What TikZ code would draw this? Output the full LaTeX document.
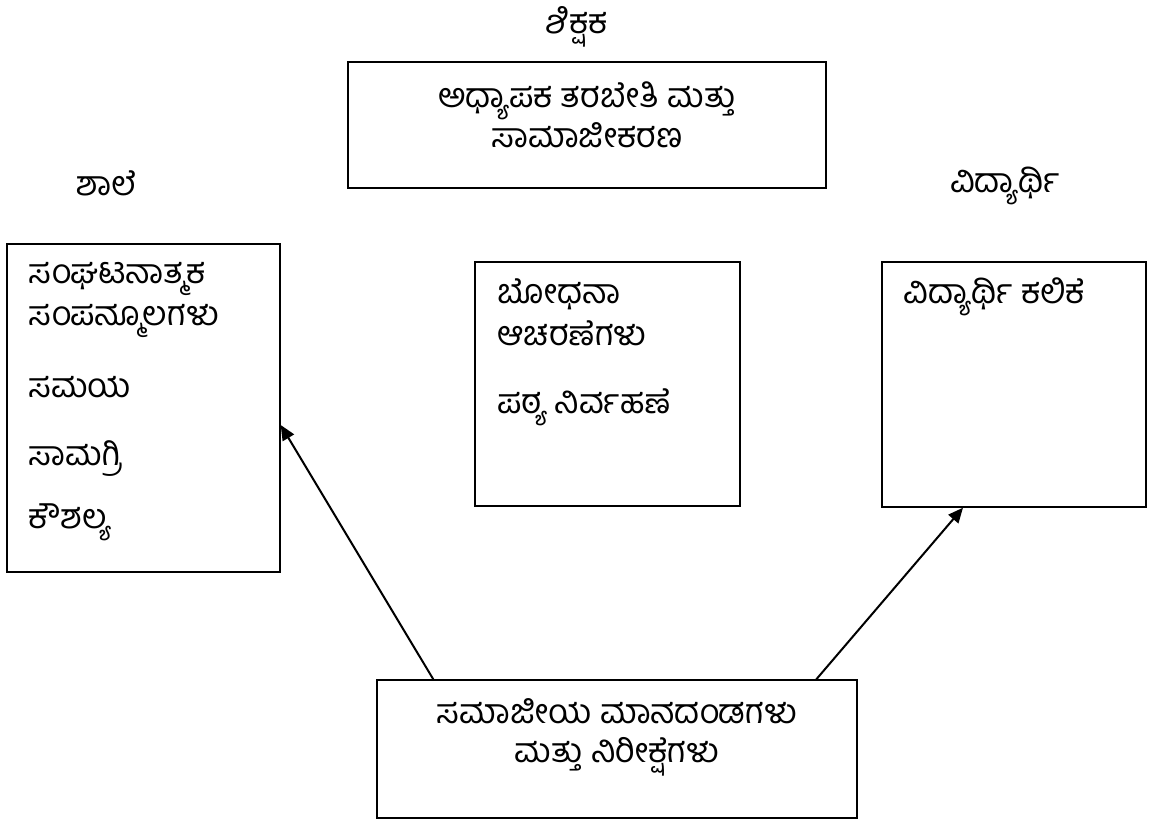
\documentclass[tikz,border=0pt]{standalone}
\usepackage{fontspec}
\newfontfamily\kannada[Script=Kannada]{Hind Mysuru}
\usetikzlibrary{arrows.meta, positioning}
\tikzset{>={Triangle[length=7.5pt, width=6.5pt]},
  box/.style={rectangle, draw, line width=0.7pt, inner sep=0pt},
  txt/.style={font=\kannada\fontsize{17}{21}\selectfont, inner sep=0pt},
  link/.style={->, line width=1pt}}

\begin{document}
\begin{tikzpicture}[x=0.5pt, y=-0.5pt]
    \useasboundingbox (0,0) rectangle (1149,820);
    % boxes
    \node[box, minimum width=239pt, minimum height=63pt] (training) at (587,125) {};
    \node[box, minimum width=136.5pt, minimum height=164pt] (school) at (143.5,408) {};
    \node[box, minimum width=132.5pt, minimum height=122pt] (teaching) at (607.5,384) {};
    \node[box, minimum width=132pt, minimum height=122.5pt] (learner) at (1014,384.5) {};
    \node[box, minimum width=240pt, minimum height=69pt] (norms) at (617,749) {};
    % titles
    \node[txt, anchor=base] (teacher) at (577,33) {ಶಿಕ್ಷಕ};
    \node[txt, anchor=base] (schooltitle) at (107,195) {ಶಾಲೆ};
    \node[txt, anchor=base] (learnertitle) at (1005,192) {ವಿದ್ಯಾರ್ಥಿ};
    % texts (anchored on the baseline of the last line)
    \node[txt, align=center, anchor=base] (trainingtext) at (587,147) {ಅಧ್ಯಾಪಕ ತರಬೇತಿ ಮತ್ತು\\[-1pt]ಸಾಮಾಜೀಕರಣ};
    \node[txt, align=left, anchor=base west] (schooltext) at (28,528) {ಸಂಘಟನಾತ್ಮಕ\\ಸಂಪನ್ಮೂಲಗಳು\\[15pt]ಸಮಯ\\[13pt]ಸಾಮಗ್ರಿ\\[10.5pt]ಕೌಶಲ್ಯ};
    \node[txt, align=left, anchor=base west] (teachingtext) at (497,413) {ಬೋಧನಾ\\ಆಚರಣೆಗಳು\\[13pt]ಪಠ್ಯ ನಿರ್ವಹಣೆ};
    \node[txt, anchor=base west] (learnertext) at (903,303) {ವಿದ್ಯಾರ್ಥಿ ಕಲಿಕೆ};
    \node[txt, align=center, anchor=base] (normstext) at (617,762) {ಸಮಾಜೀಯ ಮಾನದಂಡಗಳು\\[-1.5pt]ಮತ್ತು ನಿರೀಕ್ಷೆಗಳು};
    % arrows
    \draw[link] ([xshift=28.5pt]norms.north west) -- ([yshift=-8.5pt]school.east);
    \draw[link] ([xshift=220pt]norms.north west) -- ([xshift=-25.5pt]learner.south);
\end{tikzpicture}
\end{document}
